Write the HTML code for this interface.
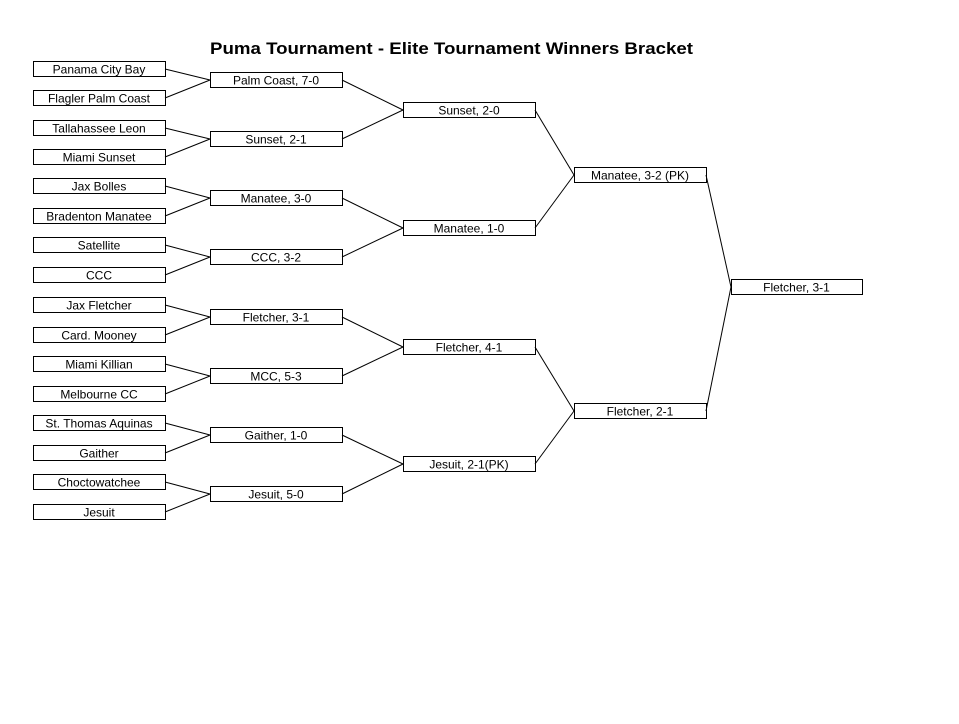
<!DOCTYPE html>
<html><head><style>
body{margin:0;background:#fff;}
svg text{font-family:"Liberation Sans",Arial,sans-serif;font-size:12px;fill:#000;}
</style></head><body>
<svg width="959" height="719" viewBox="0 0 959 719" xmlns="http://www.w3.org/2000/svg">
<rect width="959" height="719" fill="#fff"/>
<text x="210" y="54" textLength="483" lengthAdjust="spacingAndGlyphs" style="font-size:17px;font-weight:bold">Puma Tournament - Elite Tournament Winners Bracket</text>
<g fill="none" stroke="#000" stroke-width="1" id="g"></g>
</svg>
<script>
const ns="http://www.w3.org/2000/svg",svg=document.querySelector('svg'),g=document.getElementById('g');
function box(x,y,w,t){const r=document.createElementNS(ns,'rect');r.setAttribute('x',x+.5);r.setAttribute('y',y+.5);r.setAttribute('width',w);r.setAttribute('height',15);g.appendChild(r);
const tx=document.createElementNS(ns,'text');tx.setAttribute('x',x+w/2);tx.setAttribute('y',y+12.5);tx.setAttribute('text-anchor','middle');tx.textContent=t;svg.appendChild(tx);}
function ln(a,b,c,d){const l=document.createElementNS(ns,'line');l.setAttribute('x1',a);l.setAttribute('y1',b);l.setAttribute('x2',c);l.setAttribute('y2',d);g.appendChild(l);}
const c1=["Panama City Bay","Flagler Palm Coast","Tallahassee Leon","Miami Sunset","Jax Bolles","Bradenton Manatee","Satellite","CCC","Jax Fletcher","Card. Mooney","Miami Killian","Melbourne CC","St. Thomas Aquinas","Gaither","Choctowatchee","Jesuit"];
const y1=[61,90,120,149,178,208,237,267,297,327,356,386,415,445,474,504];
const c2=["Palm Coast, 7-0","Sunset, 2-1","Manatee, 3-0","CCC, 3-2","Fletcher, 3-1","MCC, 5-3","Gaither, 1-0","Jesuit, 5-0"];
const y2=[72,131,190,249,309,368,427,486];
const c3=["Sunset, 2-0","Manatee, 1-0","Fletcher, 4-1","Jesuit, 2-1(PK)"];
const y3=[102,220,339,456];
const c4=["Manatee, 3-2 (PK)","Fletcher, 2-1"];
const y4=[167,403];
c1.forEach((t,i)=>box(33,y1[i],132,t));
c2.forEach((t,i)=>box(210,y2[i],132,t));
c3.forEach((t,i)=>box(403,y3[i],132,t));
c4.forEach((t,i)=>box(574,y4[i],132,t));
box(731,279,131,"Fletcher, 3-1");
y1.forEach((y,i)=>ln(165,y+8,210,y2[i>>1]+8));
y2.forEach((y,i)=>ln(342,y+8,403,y3[i>>1]+8));
y3.forEach((y,i)=>ln(535,y+8,574,y4[i>>1]+8));
y4.forEach((y,i)=>ln(706,y+8,731,279+8));
</script>
</body></html>
